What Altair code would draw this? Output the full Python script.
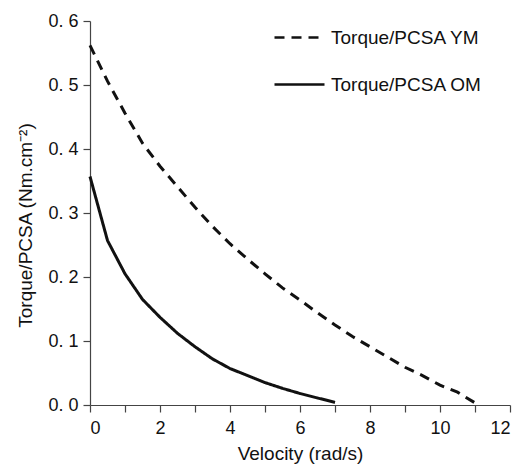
import altair as alt
import pandas as pd

# Torque/PCSA YM (dashed)
ym_velocity = [0, 0.5, 1, 1.5, 2, 2.5, 3, 3.5, 4, 4.5, 5, 5.5, 6, 6.5, 7, 7.5, 8, 8.5, 9, 9.5, 10, 10.5, 11.1]
ym_torque = [0.562, 0.506, 0.456, 0.409, 0.373, 0.341, 0.309, 0.279, 0.252, 0.228, 0.205, 0.183, 0.164,
             0.144, 0.125, 0.107, 0.091, 0.075, 0.059, 0.046, 0.031, 0.020, 0.0]

# Torque/PCSA OM (solid)
om_velocity = [0, 0.5, 1, 1.5, 2, 2.5, 3, 3.5, 4, 4.5, 5, 5.5, 6, 6.5, 7]
om_torque = [0.357, 0.257, 0.205, 0.165, 0.137, 0.112, 0.091, 0.072, 0.057, 0.046, 0.035, 0.026, 0.018,
             0.011, 0.004]

series_names = ["Torque/PCSA YM", "Torque/PCSA OM"]
x_ticks = list(range(0, 13))
y_ticks = [0.0, 0.1, 0.2, 0.3, 0.4, 0.5, 0.6]

rows = []
for i, (v, t) in enumerate(zip(ym_velocity, ym_torque)):
    rows.append({"series": series_names[0], "velocity": v, "torque": t, "order": i})
for i, (v, t) in enumerate(zip(om_velocity, om_torque)):
    rows.append({"series": series_names[1], "velocity": v, "torque": t, "order": i})
df = pd.DataFrame(rows)

FONT = "Liberation Sans"

chart = alt.Chart(df).mark_line(color="#111111", strokeWidth=3).encode(
    x=alt.X("velocity:Q",
            scale=alt.Scale(domain=[0, 12], nice=False, zero=True),
            axis=alt.Axis(title="Velocity (rad/s)", values=x_ticks,
                          labelExpr="datum.value % 2 == 0 ? datum.label : ''",
                          grid=False, tickSize=7, labelPadding=7, titlePadding=7,
                          titleFontSize=19)),
    y=alt.Y("torque:Q",
            scale=alt.Scale(domain=[0, 0.6], nice=False),
            axis=alt.Axis(title="Torque/PCSA (Nm.cm⁻²)", values=y_ticks,
                          labelExpr="replace(format(datum.value, '.1f'), '.', '. ')",
                          grid=False, tickSize=7, labelPadding=5, titlePadding=12,
                          titleY=204, titleFontSize=19)),
    strokeDash=alt.StrokeDash("series:N",
                              scale=alt.Scale(domain=series_names, range=[[10, 7], [1, 0]]),
                              legend=alt.Legend(title=None, orient="none", legendX=183, legendY=-10,
                                                symbolType="stroke", symbolSize=2500,
                                                symbolStrokeWidth=2.5, symbolStrokeColor="#111111",
                                                labelFontSize=19, labelFont=FONT, labelColor="#111111",
                                                labelOffset=5, rowPadding=10)),
    order="order:Q",
).properties(
    width=420,
    height=384,
    autosize=alt.AutoSizeParams(type="none"),
    padding={"left": 82, "top": 13, "right": 10, "bottom": 62},
).configure_view(
    stroke=None
).configure_axis(
    domainColor="#444444",
    domainWidth=1.2,
    tickColor="#444444",
    tickWidth=1.2,
    labelFont=FONT,
    labelFontSize=18,
    labelColor="#111111",
    titleFont=FONT,
    titleFontWeight="normal",
    titleColor="#111111",
)

chart.save("out.html", embed_options={"renderer": "svg", "actions": False})
